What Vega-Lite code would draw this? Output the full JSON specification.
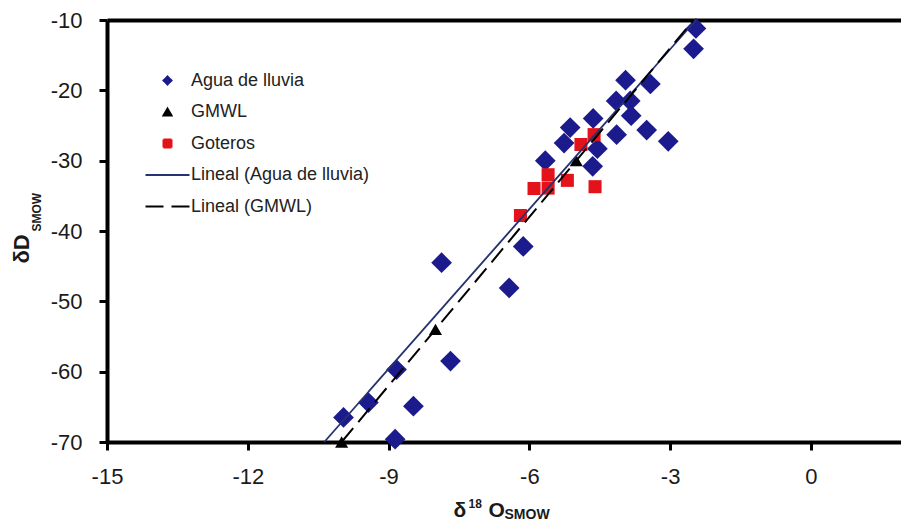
{
  "$schema": "https://vega.github.io/schema/vega-lite/v6.json",
  "width": 794,
  "height": 422,
  "autosize": {"type": "none"},
  "padding": {"left": 107, "top": 20, "right": 0, "bottom": 84},
  "background": "white",
  "config": {
    "view": {"stroke": null},
    "axis": {"grid": false, "labelFont": "Liberation Sans", "titleFont": "Liberation Sans", "labelColor": "#1a1a1a", "titleColor": "#1a1a1a"},
    "legend": {"labelFont": "Liberation Sans"}
  },
  "datasets": {
    "pts": [
      {"series": "Agua de lluvia", "x": -2.45, "y": -11.2},
      {"series": "Agua de lluvia", "x": -2.5, "y": -14.1},
      {"series": "Agua de lluvia", "x": -3.95, "y": -18.55},
      {"series": "Agua de lluvia", "x": -3.42, "y": -19.1},
      {"series": "Agua de lluvia", "x": -4.15, "y": -21.5},
      {"series": "Agua de lluvia", "x": -3.85, "y": -21.5},
      {"series": "Agua de lluvia", "x": -3.83, "y": -23.6},
      {"series": "Agua de lluvia", "x": -3.5, "y": -25.65},
      {"series": "Agua de lluvia", "x": -4.14, "y": -26.3},
      {"series": "Agua de lluvia", "x": -3.04, "y": -27.25},
      {"series": "Agua de lluvia", "x": -4.64, "y": -24.0},
      {"series": "Agua de lluvia", "x": -5.13, "y": -25.3},
      {"series": "Agua de lluvia", "x": -5.26, "y": -27.5},
      {"series": "Agua de lluvia", "x": -4.55, "y": -28.3},
      {"series": "Agua de lluvia", "x": -4.65, "y": -30.8},
      {"series": "Agua de lluvia", "x": -5.66, "y": -30.0},
      {"series": "Agua de lluvia", "x": -6.13, "y": -42.2},
      {"series": "Agua de lluvia", "x": -6.43, "y": -48.1},
      {"series": "Agua de lluvia", "x": -7.87, "y": -44.5},
      {"series": "Agua de lluvia", "x": -7.68, "y": -58.5},
      {"series": "Agua de lluvia", "x": -8.83, "y": -59.7},
      {"series": "Agua de lluvia", "x": -9.43, "y": -64.4},
      {"series": "Agua de lluvia", "x": -9.96, "y": -66.5},
      {"series": "Agua de lluvia", "x": -8.47, "y": -64.9},
      {"series": "Agua de lluvia", "x": -8.86, "y": -69.6},
      {"series": "GMWL", "x": -10, "y": -70},
      {"series": "GMWL", "x": -8, "y": -54},
      {"series": "GMWL", "x": -5, "y": -30},
      {"series": "Goteros", "x": -4.62, "y": -26.3},
      {"series": "Goteros", "x": -4.9, "y": -27.7},
      {"series": "Goteros", "x": -5.6, "y": -32.0},
      {"series": "Goteros", "x": -5.19, "y": -32.8},
      {"series": "Goteros", "x": -5.9, "y": -33.96},
      {"series": "Goteros", "x": -5.6, "y": -33.9},
      {"series": "Goteros", "x": -4.6, "y": -33.7},
      {"series": "Goteros", "x": -6.19, "y": -37.8}
    ],
    "fit": [
      {"series": "Lineal (Agua de lluvia)", "x": -10.37, "y": -70},
      {"series": "Lineal (Agua de lluvia)", "x": -2.45, "y": -10},
      {"series": "Lineal (GMWL)", "x": -10, "y": -70},
      {"series": "Lineal (GMWL)", "x": -2.5, "y": -10}
    ]
  },
  "resolve": {"axis": {"x": "independent", "y": "independent"}},
  "layer": [
    {
      "data": {"name": "pts"},
      "transform": [{"filter": "datum.series === 'Agua de lluvia'"}],
      "mark": {"type": "point", "filled": true, "opacity": 1, "size": 430, "strokeWidth": 0},
      "encoding": {
        "x": {"field": "x", "type": "quantitative", "scale": {"domain": [-15, 1.92], "nice": false, "zero": false},
              "axis": {"orient": "top", "domain": true, "domainWidth": 4, "domainColor": "#000", "ticks": false, "labels": false, "title": null}},
        "y": {"field": "y", "type": "quantitative", "scale": {"domain": [-70, -10], "nice": false, "zero": false}, "axis": null},
        "color": {"field": "series", "type": "nominal",
          "scale": {"domain": ["Agua de lluvia", "GMWL", "Goteros", "Lineal (Agua de lluvia)", "Lineal (GMWL)"], "range": ["#1b1b8e", "#000000", "#e3121b", "#26336e", "#000000"]},
          "legend": {"title": null, "orient": "none", "direction": "vertical", "legendX": 51.5, "legendY": 51.5, "padding": 0,
            "symbolSize": 64, "symbolStrokeWidth": 2, "labelOffset": 14.5, "rowPadding": 13.5, "labelLimit": 0,
            "labelFontSize": 18, "labelColor": "#222222", "labelFont": "Liberation Sans",
            "encode": {
              "symbols": {
                "fill": {"value": {"expr": "scale('color', datum.value)"}},
                "stroke": {"value": {"expr": "scale('color', datum.value)"}},
                "strokeWidth": {"value": {"expr": "indexof(['Lineal (Agua de lluvia)','Lineal (GMWL)'], datum.value) >= 0 ? 2.5 : 0"}},
                "size": {"value": {"expr": "datum.value === 'Goteros' ? 110 : datum.value === 'GMWL' ? 80 : datum.value === 'Agua de lluvia' ? 50 : 64"}},
                "shape": {"value": {"expr": "scale('shape', datum.value)"}},
                "strokeDash": {"value": {"expr": "scale('strokeDash', datum.value)"}},
                "opacity": {"value": 1}
              }
            }}},
        "shape": {"field": "series", "type": "nominal",
          "scale": {"domain": ["Agua de lluvia", "GMWL", "Goteros", "Lineal (Agua de lluvia)", "Lineal (GMWL)"], "range": ["diamond", "triangle-up", "square", "M-5.5,0H5.5", "M-5.5,0H5.5"]},
          "legend": null}
      }
    },
    {
      "data": {"name": "pts"},
      "transform": [{"filter": "datum.series === 'GMWL'"}],
      "mark": {"type": "point", "filled": true, "opacity": 1, "size": 170, "strokeWidth": 0},
      "encoding": {
        "x": {"field": "x", "type": "quantitative", "scale": {"domain": [-15, 1.92], "nice": false, "zero": false},
              "axis": {"orient": "bottom", "domain": false, "ticks": false, "labels": false, "title": "SMOW", "titleFontSize": 14, "titleFontWeight": "bold", "titleAlign": "left", "titleBaseline": "alphabetic", "titleX": 397, "titleY": 76}},
        "y": {"field": "y", "type": "quantitative", "scale": {"domain": [-70, -10], "nice": false, "zero": false}, "axis": null},
        "color": {"field": "series", "type": "nominal", "legend": null,
          "scale": {"domain": ["Agua de lluvia", "GMWL", "Goteros", "Lineal (Agua de lluvia)", "Lineal (GMWL)"], "range": ["#1b1b8e", "#000000", "#e3121b", "#26336e", "#000000"]}},
        "shape": {"field": "series", "type": "nominal", "legend": null,
          "scale": {"domain": ["Agua de lluvia", "GMWL", "Goteros", "Lineal (Agua de lluvia)", "Lineal (GMWL)"], "range": ["diamond", "triangle-up", "square", "M-5.5,0H5.5", "M-5.5,0H5.5"]}}
      }
    },
    {
      "data": {"name": "pts"},
      "transform": [{"filter": "datum.series === 'Goteros'"}],
      "mark": {"type": "point", "filled": true, "opacity": 1, "size": 170, "strokeWidth": 0},
      "encoding": {
        "x": {"field": "x", "type": "quantitative", "scale": {"domain": [-15, 1.92], "nice": false, "zero": false},
              "axis": {"orient": "bottom", "domain": false, "ticks": false, "labels": false, "title": "O", "titleFontSize": 21, "titleFontWeight": "bold", "titleAlign": "left", "titleBaseline": "alphabetic", "titleX": 381, "titleY": 74}},
        "y": {"field": "y", "type": "quantitative", "scale": {"domain": [-70, -10], "nice": false, "zero": false}, "axis": null},
        "color": {"field": "series", "type": "nominal", "legend": null,
          "scale": {"domain": ["Agua de lluvia", "GMWL", "Goteros", "Lineal (Agua de lluvia)", "Lineal (GMWL)"], "range": ["#1b1b8e", "#000000", "#e3121b", "#26336e", "#000000"]}},
        "shape": {"field": "series", "type": "nominal", "legend": null,
          "scale": {"domain": ["Agua de lluvia", "GMWL", "Goteros", "Lineal (Agua de lluvia)", "Lineal (GMWL)"], "range": ["diamond", "triangle-up", "square", "M-5.5,0H5.5", "M-5.5,0H5.5"]}}
      }
    },
    {
      "data": {"name": "fit"},
      "transform": [{"filter": "datum.series === 'Lineal (Agua de lluvia)'"}],
      "mark": {"type": "line", "strokeWidth": 1.8},
      "encoding": {
        "x": {"field": "x", "type": "quantitative", "scale": {"domain": [-15, 1.92], "nice": false, "zero": false},
              "axis": {"orient": "bottom", "values": [-15, -12, -9, -6, -3, 0], "labelExpr": "replace(datum.label, '−', '-')", "labelFontSize": 22, "labelPadding": 16, "labelFlush": false, "labelOverlap": false,
                       "tickSize": 8, "tickWidth": 3, "tickColor": "#000", "domainColor": "#000", "domainWidth": 4,
                       "title": "δ", "titleFontSize": 21, "titleFontWeight": "bold", "titleAlign": "left", "titleBaseline": "alphabetic", "titleX": 346, "titleY": 74}},
        "y": {"field": "y", "type": "quantitative", "scale": {"domain": [-70, -10], "nice": false, "zero": false},
              "axis": {"orient": "left", "values": [-70, -60, -50, -40, -30, -20, -10], "labelExpr": "replace(datum.label, '−', '-')", "labelFontSize": 22, "labelPadding": 17, "labelFlush": false, "labelOverlap": false,
                       "tickSize": 8, "tickWidth": 3, "tickColor": "#000", "domainColor": "#000", "domainWidth": 4,
                       "title": "δD", "titleFontSize": 22, "titleFontWeight": "bold", "titleAngle": 270, "titleAlign": "left", "titleBaseline": "alphabetic", "titleX": -79, "titleY": 243}},
        "color": {"field": "series", "type": "nominal", "legend": null,
          "scale": {"domain": ["Agua de lluvia", "GMWL", "Goteros", "Lineal (Agua de lluvia)", "Lineal (GMWL)"], "range": ["#1b1b8e", "#000000", "#e3121b", "#26336e", "#000000"]}},
        "strokeDash": {"field": "series", "type": "nominal", "legend": null,
          "scale": {"domain": ["Agua de lluvia", "GMWL", "Goteros", "Lineal (Agua de lluvia)", "Lineal (GMWL)"], "range": [[1, 0], [1, 0], [1, 0], [1, 0], [18, 8]]}}
      }
    },
    {
      "data": {"name": "fit"},
      "transform": [{"filter": "datum.series === 'Lineal (GMWL)'"}],
      "mark": {"type": "line", "strokeWidth": 2},
      "encoding": {
        "x": {"field": "x", "type": "quantitative", "scale": {"domain": [-15, 1.92], "nice": false, "zero": false},
              "axis": {"orient": "bottom", "domain": false, "ticks": false, "labels": false, "title": "18", "titleFontSize": 12, "titleFontWeight": "bold", "titleAlign": "left", "titleBaseline": "alphabetic", "titleX": 361, "titleY": 65}},
        "y": {"field": "y", "type": "quantitative", "scale": {"domain": [-70, -10], "nice": false, "zero": false},
              "axis": {"orient": "left", "domain": false, "ticks": false, "labels": false, "title": "SMOW", "titleFontSize": 12, "titleFontWeight": "bold", "titleAngle": 270, "titleAlign": "left", "titleBaseline": "alphabetic", "titleX": -67, "titleY": 211}},
        "color": {"field": "series", "type": "nominal", "legend": null,
          "scale": {"domain": ["Agua de lluvia", "GMWL", "Goteros", "Lineal (Agua de lluvia)", "Lineal (GMWL)"], "range": ["#1b1b8e", "#000000", "#e3121b", "#26336e", "#000000"]}},
        "strokeDash": {"field": "series", "type": "nominal", "legend": null,
          "scale": {"domain": ["Agua de lluvia", "GMWL", "Goteros", "Lineal (Agua de lluvia)", "Lineal (GMWL)"], "range": [[1, 0], [1, 0], [1, 0], [1, 0], [18, 8]]}}
      }
    }
  ]
}
